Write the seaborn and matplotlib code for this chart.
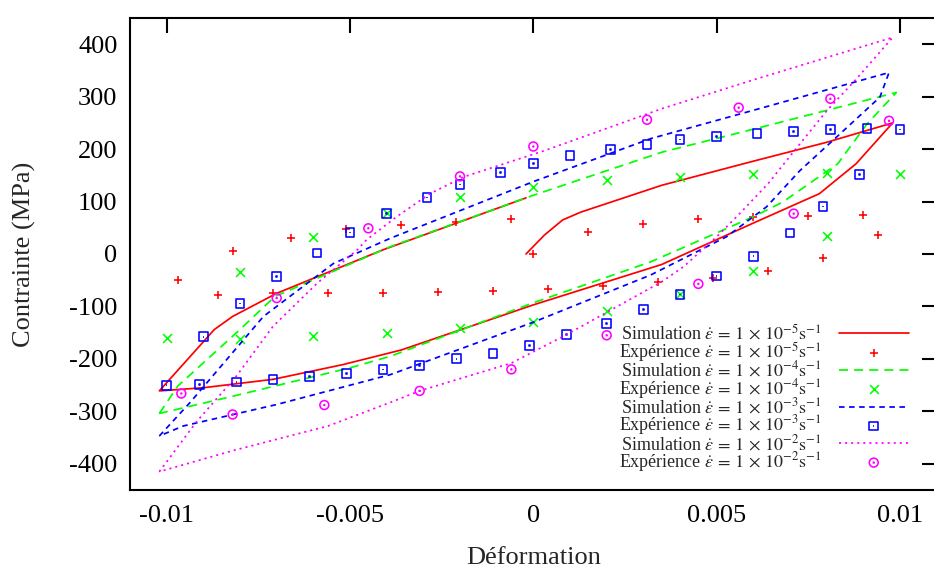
import numpy as np
import pandas as pd
import seaborn as sns
import matplotlib.pyplot as plt
from matplotlib.path import Path

# Simulation curves (strain, stress in MPa)
sim5_x = [-0.0002, 0.0003, 0.0008, 0.0013, 0.0035, 0.0060, 0.0080, 0.0098, 0.0088, 0.0078, 0.0060,
          0.0035, 0.0, -0.0036, -0.0052, -0.0071, -0.0090, -0.0102, -0.0087, -0.0082, -0.0070, -0.0041, -0.0002]
sim5_y = [0, 36, 65, 80, 131, 177, 213, 250, 172, 115, 59,
          -20, -97, -183, -211, -239, -255, -261, -144, -119, -75, 8, 107]

sim4_x = [-0.0102, -0.0097, -0.0080, -0.00705, -0.0039, 0.0, 0.0035, 0.0060, 0.0099,
          0.0091, 0.0083, 0.0068, 0.0060, 0.0032, 0.0, -0.0039, -0.0050, -0.0083, -0.0102]
sim4_y = [-304, -252, -144, -81, 14, 112, 194, 238, 308,
          248, 172, 99, 71, -15, -93, -195, -217, -273, -304]

sim3_x = [-0.0102, -0.00936, -0.00736, -0.00545, -0.0039, 0.0, 0.0032, 0.0060, 0.0097,
          0.00945, 0.00827, 0.00727, 0.00636, 0.00527, 0.0032, 0.0, -0.0039, -0.0070, -0.00955, -0.0102]
sim3_y = [-347, -283, -119, -18, 30, 138, 220, 274, 346,
          299, 223, 159, 90, 33, -40, -130, -230, -287, -328, -347]

sim2_x = [-0.0102, -0.0092, -0.0081, -0.0071, -0.0059, -0.0048, -0.00455, -0.00373, -0.00282, -0.0019,
          -0.0008, 0.0003, 0.0035, 0.0060, 0.0098,
          0.0088, 0.0080, 0.0072, 0.0064, 0.0056, 0.0050, 0.0041, 0.0035, 0.0009, -0.0006, -0.0031,
          -0.0039, -0.0056, -0.0082, -0.0102]
sim2_y = [-415, -321, -233, -138, -56, 8, 27, 71, 115, 147,
          172, 197, 277, 332, 413,
          333, 273, 204, 134, 75, 33, -24, -53, -154, -208, -261,
          -283, -328, -375, -415]

# Experimental points
exp5_x = [-0.0082, -0.0066, -0.0051, -0.0036, -0.0021, -0.0006, 0.0, 0.0015, 0.0030, 0.0045, 0.0060,
          0.0075, 0.0090, 0.0094, 0.0079, 0.0064, 0.0049, 0.0034, 0.0019, 0.0004, -0.0011, -0.0026,
          -0.0041, -0.0056, -0.0071, -0.0086, -0.0097]
exp5_y = [6, 30, 47, 55, 61, 66, 0, 42, 58, 66, 71,
          72, 75, 36, -8, -32, -45, -54, -61, -67, -70, -73,
          -75, -75, -75, -78, -49]

exp4_x = [-0.0100, -0.0080, -0.0060, -0.0040, -0.0020, 0.0, 0.0020, 0.0040, 0.0060, 0.0080, 0.0100,
          0.0080, 0.0060, 0.0040, 0.0020, 0.0, -0.0020, -0.0040, -0.0060, -0.0080]
exp4_y = [-160, -35, 32, 78, 109, 128, 141, 147, 152, 154, 153,
          34, -32, -77, -108, -129, -142, -151, -157, -162]

exp3_x = [-0.0100, -0.0090, -0.0080, -0.0070, -0.0059, -0.0050, -0.0040, -0.0029, -0.0020, -0.0009,
          0.0, 0.0010, 0.0021, 0.0031, 0.0040, 0.0050, 0.0061, 0.0071, 0.0081, 0.0091, 0.0100,
          0.0089, 0.0079, 0.0070, 0.0060, 0.0050, 0.0040, 0.0030, 0.0020, 0.0009, -0.0001,
          -0.0011, -0.0021, -0.0031, -0.0041, -0.0051, -0.0061, -0.0071, -0.0081, -0.0091]
exp3_y = [-250, -158, -95, -43, 2, 41, 77, 108, 133, 155,
          172, 187, 199, 208, 218, 224, 229, 234, 237, 240, 237,
          151, 91, 40, -4, -42, -77, -106, -132, -154, -174,
          -189, -200, -212, -220, -228, -234, -239, -244, -249]

exp2_x = [-0.0096, -0.0082, -0.0070, -0.0057, -0.0045, -0.0031, -0.0020, -0.0006, 0.0, 0.0020,
          0.0031, 0.0045, 0.0056, 0.0071, 0.0081, 0.0097]
exp2_y = [-266, -306, -84, -288, 49, -261, 148, -220, 205, -155,
          256, -57, 279, 77, 296, 254]

x_ticks = [-0.01, -0.005, 0, 0.005, 0.01]
x_ticklabels = ['-0.01', '-0.005', '0', '0.005', '0.01']
y_ticks = [-400, -300, -200, -100, 0, 100, 200, 300, 400]
y_ticklabels = ['-400', '-300', '-200', '-100', '0', '100', '200', '300', '400']

rates = ['-5', '-4', '-3', '-2']

sns.set_style('white')
plt.rcParams['font.family'] = ['Liberation Serif', 'DejaVu Serif']
plt.rcParams['mathtext.fontset'] = 'stix'

# markers: open square / circle with a dot in the middle
outer = [(-1, -1), (1, -1), (1, 1), (-1, 1), (-1, -1)]
dot = [(-0.08, -0.08), (0.08, -0.08), (0.08, 0.08), (-0.08, 0.08), (-0.08, -0.08)]
codes = [Path.MOVETO, Path.LINETO, Path.LINETO, Path.LINETO, Path.CLOSEPOLY]
sq_dot = Path(outer + dot, codes + codes)
circ_dot = Path.make_compound_path(Path.unit_circle(), Path(dot, codes))

fig = plt.figure(figsize=(9.34, 5.72), dpi=100)
ax = fig.add_axes([130 / 934, 1 - 490 / 572, (936.7 - 130) / 934, (490 - 18) / 572])

lw = 1.25
sims = [(sim5_x, sim5_y, '#ff0000', '-'),
        (sim4_x, sim4_y, '#00ff00', (0, (5.2, 3.5))),
        (sim3_x, sim3_y, '#0000ff', (0, (3.2, 2.6))),
        (sim2_x, sim2_y, '#ff00ff', (0, (1.2, 2.3)))]
exps = [(exp5_x, exp5_y, '#ff0000', '+'),
        (exp4_x, exp4_y, '#00ff00', 'x'),
        (exp3_x, exp3_y, '#0000ff', sq_dot),
        (exp2_x, exp2_y, '#ff00ff', circ_dot)]


def rate_label(kind, r):
    return kind + r' $\dot{\varepsilon}\, =\, 1\, \times\, 10^{' + r + r'}\mathrm{s}^{-1}$'


z = 2
for (sx, sy, col, ls), (ex, ey, ecol, mk), r in zip(sims, exps, rates):
    sns.lineplot(x=sx, y=sy, sort=False, estimator=None, color=col, linestyle=ls, lw=lw, ax=ax,
                 label=rate_label('Simulation', r), zorder=z)
    z += 1
    if isinstance(mk, Path):
        sns.scatterplot(x=ex, y=ey, marker=mk, s=6.4 ** 2, color=ecol, facecolor='none', edgecolor=ecol,
                        linewidth=1.15, ax=ax, zorder=z, label=rate_label('Expérience', r))
    else:
        sns.scatterplot(x=ex, y=ey, marker=mk, s=6.4 ** 2, color=ecol, linewidth=1.15, ax=ax, zorder=z,
                        label=rate_label('Expérience', r))
    z += 1

ax.set_xlim(-0.011, 0.011)
ax.set_ylim(-450, 450)
ax.set_xticks(x_ticks)
ax.set_xticklabels(x_ticklabels)
ax.set_yticks(y_ticks)
ax.set_yticklabels(y_ticklabels)
ax.tick_params(direction='in', length=11, width=1.5, top=True, right=True, labelsize=19, colors='black')
ax.tick_params(axis='x', pad=11)
ax.tick_params(axis='y', pad=9)
for sp in ax.spines.values():
    sp.set_linewidth(1.5)
    sp.set_color('black')

ax.set_xlabel('Déformation', fontsize=19, labelpad=14)
ax.set_ylabel('Contrainte (MPa)', fontsize=19, labelpad=24)

handles, labels = ax.get_legend_handles_labels()
ax.legend(handles, labels, loc='lower right', bbox_to_anchor=(0.9656, 0.034), frameon=False,
          markerfirst=False, fontsize=13, handlelength=3.9, handletextpad=0.95, labelspacing=-0.2,
          borderpad=0, borderaxespad=0)

fig.savefig('out.png', dpi=100)
